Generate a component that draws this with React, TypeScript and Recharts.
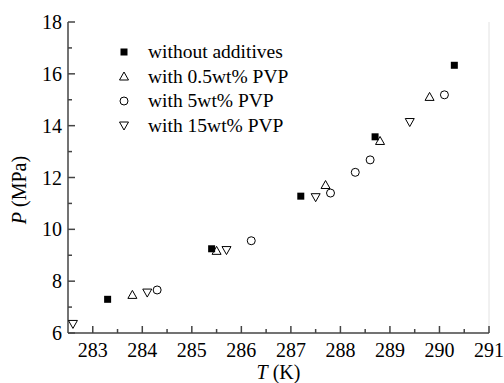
import React from 'react';
import { ScatterChart, Scatter, XAxis, YAxis, Legend, ReferenceLine } from 'recharts';

const xTicks = [283, 283.5, 284, 284.5, 285, 285.5, 286, 286.5, 287, 287.5, 288, 288.5, 289, 289.5, 290, 290.5, 291];
const yTicks = [6, 7, 8, 9, 10, 11, 12, 13, 14, 15, 16, 17, 18];

const seriesNames = ['without additives', 'with 0.5wt% PVP', 'with 5wt% PVP', 'with 15wt% PVP'];

const withoutT = [283.3, 285.4, 287.2, 288.7, 290.3];
const withoutP = [7.3, 9.25, 11.28, 13.57, 16.33];
const pvp05T = [283.8, 285.5, 287.7, 288.8, 289.8];
const pvp05P = [7.47, 9.17, 11.71, 13.41, 15.11];
const pvp5T = [284.3, 286.2, 287.8, 288.3, 288.6, 290.1];
const pvp5P = [7.66, 9.56, 11.4, 12.2, 12.68, 15.19];
const pvp15T = [282.6, 284.1, 285.7, 287.5, 289.4];
const pvp15P = [6.35, 7.56, 9.2, 11.24, 14.14];

const toPts = (xs: number[], ys: number[]) => xs.map((x, i) => ({ x, y: ys[i] }));

const FONT = "'Liberation Serif', 'Times New Roman', serif";
const AXIS = '#444';

const Square = ({ cx, cy }: any) => <rect x={cx - 3.5} y={cy - 3.5} width={7} height={7} fill="#000" />;
const TriUp = ({ cx, cy }: any) => (
  <polygon points={`${cx - 4.5},${cy + 3.5} ${cx + 4.5},${cy + 3.5} ${cx},${cy - 4.5}`} fill="none" stroke="#000" strokeWidth={1} />
);
const Circ = ({ cx, cy }: any) => <circle cx={cx} cy={cy} r={4} fill="none" stroke="#000" strokeWidth={1} />;
const TriDown = ({ cx, cy }: any) => (
  <polygon points={`${cx - 4.5},${cy - 3.5} ${cx + 4.5},${cy - 3.5} ${cx},${cy + 4.5}`} fill="none" stroke="#000" strokeWidth={1} />
);

const shapes = [Square, TriUp, Circ, TriDown];

const XTick = (props: any) => {
  const { x, y, payload } = props;
  const v = payload.value;
  const major = Number.isInteger(v);
  return (
    <g>
      <line x1={x} x2={x} y1={y} y2={y - (major ? 7 : 4)} stroke={AXIS} strokeWidth={1.5} />
      {major && (
        <text x={x} y={y + 24} textAnchor="middle" fontFamily={FONT} fontSize={20} fill="#000">
          {v}
        </text>
      )}
    </g>
  );
};

const YTick = (props: any) => {
  const { x, y, payload } = props;
  const v = payload.value;
  const major = v % 2 === 0;
  return (
    <g>
      <line x1={x} x2={x + (major ? 7 : 4)} y1={y} y2={y} stroke={AXIS} strokeWidth={1.5} />
      {major && (
        <text x={x - 6} y={y + 7} textAnchor="end" fontFamily={FONT} fontSize={20} fill="#000">
          {v}
        </text>
      )}
    </g>
  );
};

const LegendContent = () => (
  <svg width={220} height={110}>
    {seriesNames.map((name, i) => {
      const cy = 12 + i * 24.5;
      const Shape = shapes[i];
      return (
        <g key={name}>
          <Shape cx={14} cy={cy} />
          <text x={38} y={cy + 6} fontFamily={FONT} fontSize={19.5} fill="#000">
            {name}
          </text>
        </g>
      );
    })}
  </svg>
);

export default function App() {
  const datasets = [toPts(withoutT, withoutP), toPts(pvp05T, pvp05P), toPts(pvp5T, pvp5P), toPts(pvp15T, pvp15P)];
  return (
    <div style={{ position: 'absolute', left: 0, top: 0, width: 504, height: 383, background: '#fff' }}>
      <ScatterChart width={504} height={383} margin={{ top: 22, right: 15, left: 0, bottom: 0 }}>
        <ReferenceLine x={291} stroke="#e2e2e2" strokeWidth={1} ifOverflow="extendDomain" />
        <XAxis
          type="number"
          dataKey="x"
          domain={[282.5, 291]}
          ticks={xTicks}
          interval={0}
          tickSize={0}
          tickMargin={0}
          tickLine={false}
          tick={<XTick />}
          axisLine={{ stroke: AXIS, strokeWidth: 1.5 }}
          height={50}
          allowDataOverflow
          label={({ viewBox }: any) => (
            <text x={viewBox.x + viewBox.width / 2} y={379} textAnchor="middle" fontFamily={FONT} fontSize={20} fill="#000">
              <tspan fontStyle="italic">T</tspan> (K)
            </text>
          )}
        />
        <YAxis
          type="number"
          dataKey="y"
          domain={[6, 18]}
          ticks={yTicks}
          interval={0}
          tickSize={0}
          tickMargin={0}
          tickLine={false}
          tick={<YTick />}
          axisLine={{ stroke: AXIS, strokeWidth: 1.5 }}
          width={68}
          allowDataOverflow
          label={() => (
            <text x={26} y={190} transform="rotate(-90 26 190)" textAnchor="middle" fontFamily={FONT} fontSize={20} fill="#000">
              <tspan fontStyle="italic">P</tspan> (MPa)
            </text>
          )}
        />
        <Legend
          layout="vertical"
          align="center"
          verticalAlign="middle"
          wrapperStyle={{ left: 110, top: 40, width: 220, height: 110 }}
          content={<LegendContent />}
        />
        {datasets.map((d, i) => (
          <Scatter key={seriesNames[i]} name={seriesNames[i]} data={d} shape={shapes[i]} isAnimationActive={false} />
        ))}
      </ScatterChart>
    </div>
  );
}
